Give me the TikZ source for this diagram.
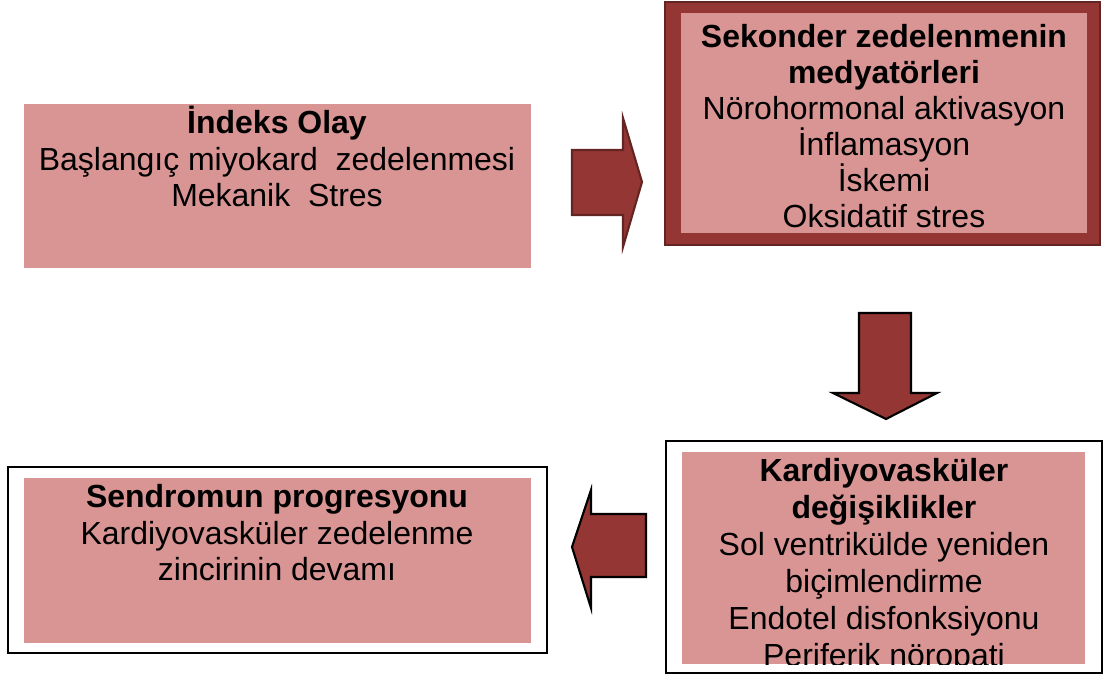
\documentclass[tikz,border=0pt]{standalone}
\usepackage{fontspec}
\setmainfont{Liberation Sans}
\usetikzlibrary{positioning}

\definecolor{kutu}{RGB}{217,149,148}
\definecolor{koyu}{RGB}{148,54,52}
\definecolor{kenar}{RGB}{99,37,35}

\begin{document}
\begin{tikzpicture}[
    x=0.02cm, y=-0.02cm,
    yazi/.style={
      align=center,
      anchor=base,
      inner sep=0pt,
      font=\fontsize{18.2}{21}\selectfont},
    blokok/.style={
      fill=koyu,
      line width=1.2pt,
      line join=miter}
    ]

  \useasboundingbox (0,0) rectangle (1103,675);

  % kutular
  \fill[kutu] (24,104) rectangle (531,268);

  \filldraw[fill=koyu, draw=kenar, line width=0.8pt] (665,2) rectangle (1100,245);
  \fill[kutu] (681,13) rectangle (1087,233);

  \draw[line width=1.4pt] (666,441) rectangle (1102,673);
  \fill[kutu] (682,452) rectangle (1085,664);

  \draw[line width=1.4pt] (8,467) rectangle (547,653);
  \fill[kutu] (24,478) rectangle (531,643);

  % metinler (anchor=base -> son satir)
  \node[yazi] at (277,207) (indeks) {\textbf{İndeks Olay}\\Başlangıç miyokard~~zedelenmesi\\Mekanik~~Stres};

  \node[yazi, font=\fontsize{18.2}{20.6}\selectfont] at (884,228) (sekonder) {\textbf{Sekonder zedelenmenin}\\\textbf{medyatörleri}\\Nörohormonal aktivasyon\\İnflamasyon\\İskemi\\Oksidatif stres};

  \begin{scope}
    \clip (682,452) rectangle (1085,664);
    \node[yazi] at (884,666) (kardiyo) {\textbf{Kardiyovasküler}\\\textbf{değişiklikler}\\Sol ventrikülde yeniden\\biçimlendirme\\Endotel disfonksiyonu\\Periferik nöropati};
  \end{scope}

  \node[yazi] at (277,581) (sendrom) {\textbf{Sendromun progresyonu}\\Kardiyovasküler zedelenme\\zincirinin devamı};

  % blok oklar
  \path[blokok, draw=kenar] (572,150) -- (623,150) -- (623,118) -- (642,182)
    -- (623,247) -- (623,215) -- (572,215) -- cycle;
  \path[blokok, draw=black] (859,313) -- (911,313) -- (911,393) -- (937,393)
    -- (886,419) -- (833,393) -- (859,393) -- cycle;
  \path[blokok, draw=black] (646,514) -- (591,514) -- (591,490) -- (572,547)
    -- (591,608) -- (591,577) -- (646,577) -- cycle;

\end{tikzpicture}
\end{document}
